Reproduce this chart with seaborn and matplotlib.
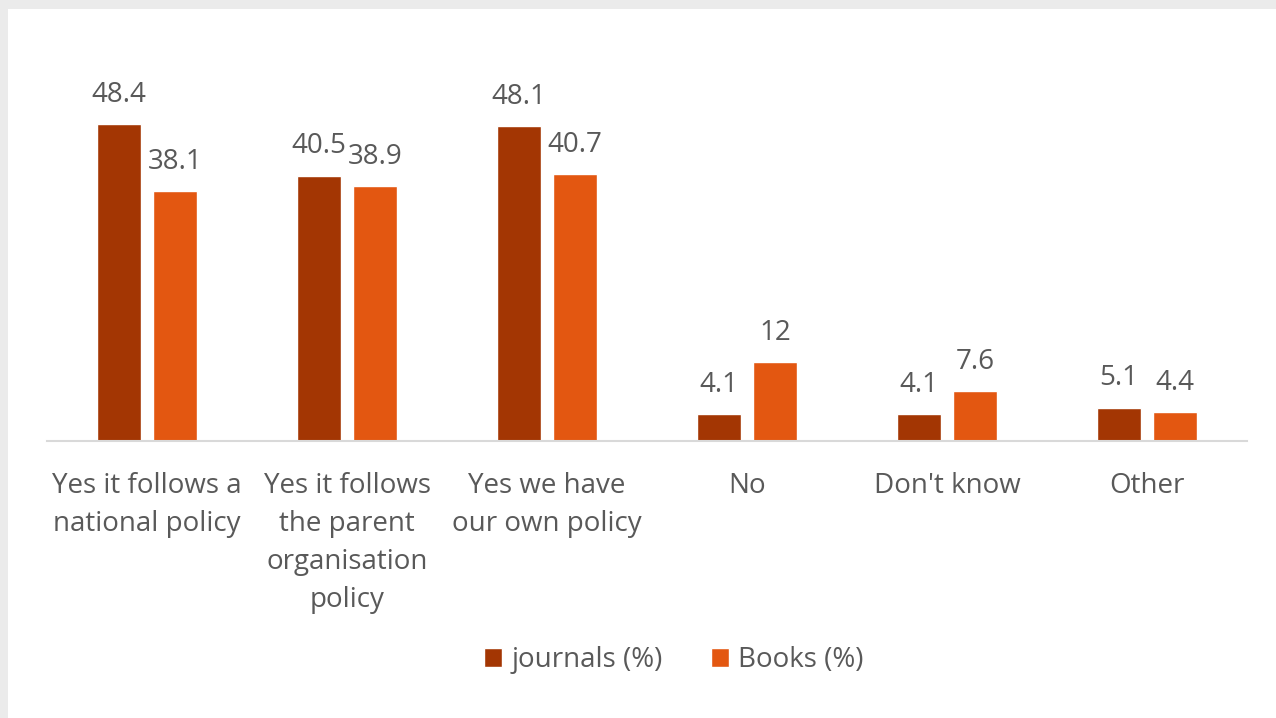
import matplotlib
matplotlib.use("Agg")
import matplotlib.pyplot as plt
import seaborn as sns
import pandas as pd
from matplotlib.patches import Rectangle

categories = ["Yes it follows a\nnational policy", "Yes it follows\nthe parent\norganisation\npolicy",
              "Yes we have\nour own policy", "No", "Don't know", "Other"]
series_names = ["journals (%)", "Books (%)"]
journals = [48.4, 40.5, 48.1, 4.1, 4.1, 5.1]
books = [38.1, 38.9, 40.7, 12, 7.6, 4.4]
label_text_journals = ["48.4", "40.5", "48.1", "4.1", "4.1", "5.1"]
label_text_books = ["38.1", "38.9", "40.7", "12", "7.6", "4.4"]

df = pd.DataFrame({
    "category": categories * 2,
    "series": [series_names[0]] * 6 + [series_names[1]] * 6,
    "value": journals + books,
})

sns.set_theme(style="white")
plt.rcParams['font.family'] = ['Open Sans', 'DejaVu Sans']

W, H = 1276, 718
FS = 20
fig = plt.figure(figsize=(W / 100, H / 100), dpi=100)
fig.patch.set_facecolor("#EBEBEB")
fig.patches.append(Rectangle((8 / W, 0), 1, 1 - 9 / H, transform=fig.transFigure,
                             facecolor="white", edgecolor="none", zorder=-10))

ax = fig.add_axes([47 / W, 1 - 441 / H, 1200 / W, (441 - 48) / H])
ax.set_zorder(5)
ax.set_facecolor("none")
colors = ["#A33603", "#E35711"]
sns.barplot(data=df, x="category", y="value", hue="series", palette=colors,
            width=0.56, gap=0.2, ax=ax, legend=True, saturation=1)

ax.set_ylim(0, 60)
ax.set_xlim(-0.5, 5.5)
for s in ["top", "right", "left"]:
    ax.spines[s].set_visible(False)
ax.spines["bottom"].set_color("#D9D9D9")
ax.spines["bottom"].set_linewidth(1.5)
ax.set_yticks([])
ax.set_xlabel("")
ax.set_ylabel("")
ax.tick_params(axis="x", length=0, pad=22, labelsize=FS, labelcolor="#595959")
for t in ax.get_xticklabels():
    t.set_linespacing(1.48)
    t.set_verticalalignment("top")

for cont, labs in zip(ax.containers, [label_text_journals, label_text_books]):
    ax.bar_label(cont, labels=labs, padding=11, fontsize=FS, color="#595959")

leg = ax.legend(loc="center", bbox_to_anchor=(674 / W, 1 - 660 / H), bbox_transform=fig.transFigure,
                ncol=2, frameon=False, fontsize=FS, handlelength=0.65, handleheight=0.65,
                handletextpad=0.35, columnspacing=1.7)
for t in leg.get_texts():
    t.set_color("#595959")

fig.savefig("out.png", dpi=100, facecolor=fig.get_facecolor())
